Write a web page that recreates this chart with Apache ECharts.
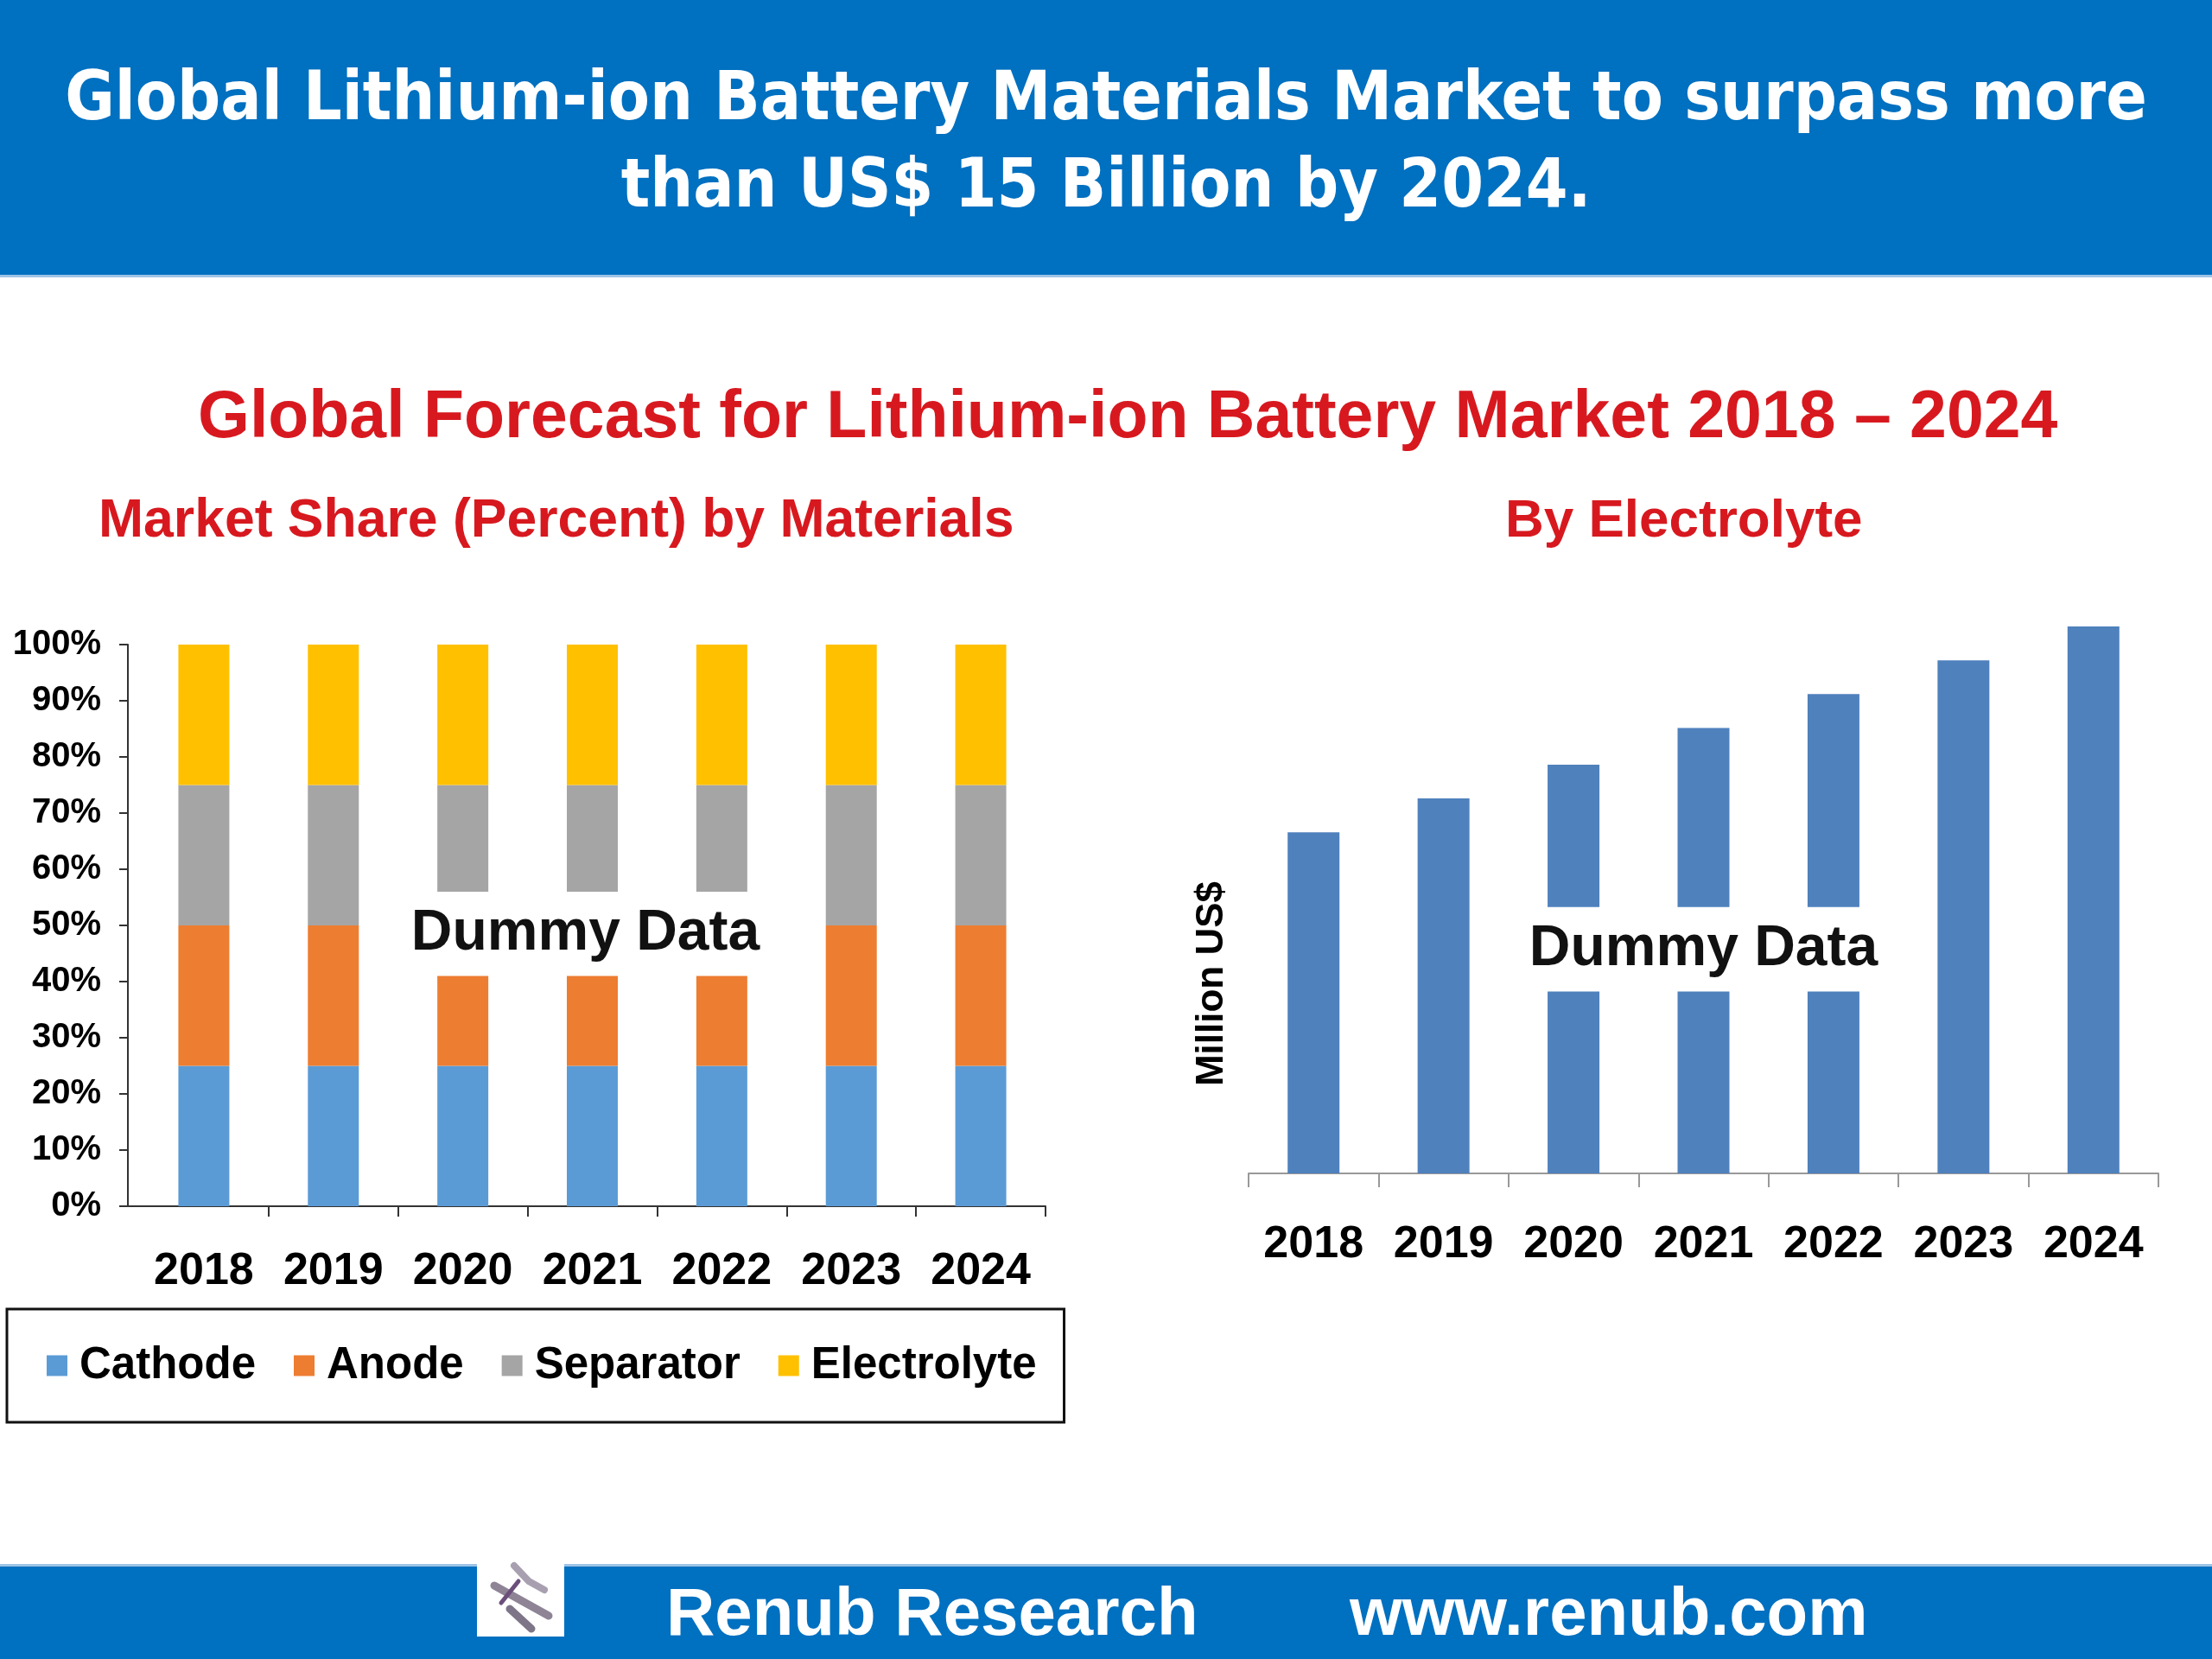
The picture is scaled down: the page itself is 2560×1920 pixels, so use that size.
<!DOCTYPE html>
<html><head><meta charset="utf-8">
<script src="https://cdn.jsdelivr.net/npm/echarts@6/dist/echarts.min.js"></script>
<style>html,body{margin:0;padding:0;background:#fff}#c{width:2560px;height:1920px}</style>
</head><body><div id="c"></div>
<script>
// ---- data ----
const years = ['2018', '2019', '2020', '2021', '2022', '2023', '2024'];
const materialNames = ['Cathode', 'Anode', 'Separator', 'Electrolyte'];
const cathodeShare = [25, 25, 25, 25, 25, 25, 25];
const anodeShare = [25, 25, 25, 25, 25, 25, 25];
const separatorShare = [25, 25, 25, 25, 25, 25, 25];
const electrolyteShare = [25, 25, 25, 25, 25, 25, 25];
const electrolyteMarket = [2420, 2660, 2900, 3160, 3400, 3640, 3880];
const percentMin = 0, percentMax = 100, percentStep = 10;

// ---- styles ----
const ARIAL = "'Liberation Sans', Arial, sans-serif";
const DEJAVU = "'DejaVu Sans Condensed', 'DejaVu Sans', sans-serif";
const BLUE = '#0070C0';
const RED = '#D7191F';
const matColors = ['#5B9BD5', '#ED7D31', '#A5A5A5', '#FFC000'];
const shares = [cathodeShare, anodeShare, separatorShare, electrolyteShare];

const chart = echarts.init(document.getElementById('c'));

const option = {
  backgroundColor: '#fff',
  animation: false,
  title: [
    { text: 'Global Lithium-ion Battery Materials Market to surpass more\nthan US$ 15 Billion by 2024.',
      left: 'center', top: 67, padding: 0,
      textStyle: { color: '#fff', fontSize: 78, fontWeight: 'bold', fontFamily: DEJAVU, lineHeight: 101 } },
    { text: 'Global Forecast for Lithium-ion Battery Market 2018 \u2013 2024',
      left: 229, top: 446, padding: 0,
      textStyle: { color: RED, fontSize: 77, fontWeight: 'bold', fontFamily: ARIAL, lineHeight: 77 } },
    { text: 'Market Share (Percent) by Materials',
      left: 114, top: 573, padding: 0,
      textStyle: { color: RED, fontSize: 62.5, fontWeight: 'bold', fontFamily: ARIAL, lineHeight: 62 } },
    { text: 'By Electrolyte',
      left: 1742, top: 573, padding: 0,
      textStyle: { color: RED, fontSize: 62, fontWeight: 'bold', fontFamily: ARIAL, lineHeight: 62 } },
    { text: 'Renub Research',
      left: 771, top: 1831, padding: 0,
      textStyle: { color: '#fff', fontSize: 78, fontWeight: 'bold', fontFamily: ARIAL, lineHeight: 78 } },
    { text: 'www.renub.com',
      left: 1562, top: 1831, padding: 0,
      textStyle: { color: '#fff', fontSize: 78, fontWeight: 'bold', fontFamily: ARIAL, lineHeight: 78 } }
  ],
  legend: {
    data: materialNames,
    left: 8, top: 1515,
    orient: 'horizontal',
    icon: 'rect',
    itemWidth: 24, itemHeight: 24, itemGap: 44,
    padding: [40, 32, 40, 46],
    borderColor: '#111', borderWidth: 3,
    textStyle: { fontSize: 51, fontWeight: 'bold', fontFamily: ARIAL, color: '#000', padding: [0, 0, 0, 9] }
  },
  grid: [
    { left: 161, top: 746, width: 1049, height: 650 },
    { left: 1445, top: 725, width: 1053, height: 633 }
  ],
  xAxis: [
    { type: 'category', gridIndex: 0, data: years,
      axisLine: { lineStyle: { color: '#333', width: 2 } },
      axisTick: { show: true, interval: (i) => i !== 0, length: 12, lineStyle: { color: '#333', width: 2 } },
      axisLabel: { interval: 0, fontSize: 52, fontWeight: 'bold', fontFamily: ARIAL, color: '#000', margin: 50 } },
    { type: 'category', gridIndex: 1, data: years,
      axisLine: { lineStyle: { color: '#999', width: 2 } },
      axisTick: { show: true, interval: 0, length: 16, lineStyle: { color: '#999', width: 2 } },
      axisLabel: { interval: 0, fontSize: 52, fontWeight: 'bold', fontFamily: ARIAL, color: '#000', margin: 57 } }
  ],
  yAxis: [
    { type: 'value', gridIndex: 0, min: percentMin, max: percentMax, interval: percentStep, offset: 13,
      axisLine: { show: true, lineStyle: { color: '#333', width: 2 } },
      axisTick: { show: true, length: 10, lineStyle: { color: '#333', width: 2 } },
      splitLine: { show: false },
      axisLabel: { formatter: '{value}%', fontSize: 40, fontWeight: 'bold', fontFamily: ARIAL, color: '#000', margin: 31 } },
    { type: 'value', gridIndex: 1, min: 0, max: electrolyteMarket[electrolyteMarket.length - 1],
      axisLine: { show: false }, axisTick: { show: false }, axisLabel: { show: false },
      splitLine: { show: false },
      name: 'Million US$', nameLocation: 'middle', nameRotate: 90, nameGap: 20,
      nameTextStyle: { fontSize: 44, fontWeight: 'bold', fontFamily: ARIAL, color: '#000', padding: [0, 194, 0, 0] } }
  ],
  series: materialNames.map((n, i) => ({
    name: n, type: 'bar', stack: 'share', xAxisIndex: 0, yAxisIndex: 0,
    barWidth: 59, data: shares[i], itemStyle: { color: matColors[i] }
  })).concat([{
    name: 'Electrolyte Market', type: 'bar', xAxisIndex: 1, yAxisIndex: 1,
    barWidth: 60, data: electrolyteMarket, itemStyle: { color: '#4F81BD' }
  }])
};
chart.setOption(option);

// annotation overlays ("Dummy Data") placed via the axes
const L1 = chart.convertToPixel({ xAxisIndex: 0, yAxisIndex: 0 }, [3, 56]);
const L2 = chart.convertToPixel({ xAxisIndex: 0, yAxisIndex: 0 }, [3, 41]);
const LT = chart.convertToPixel({ xAxisIndex: 0, yAxisIndex: 0 }, [3, 48.5]);
const L0 = chart.convertToPixel({ xAxisIndex: 0, yAxisIndex: 0 }, [0, 0]);
const R1 = chart.convertToPixel({ xAxisIndex: 1, yAxisIndex: 1 }, [3, 1890]);
const R2 = chart.convertToPixel({ xAxisIndex: 1, yAxisIndex: 1 }, [3, 1290]);
const RT = chart.convertToPixel({ xAxisIndex: 1, yAxisIndex: 1 }, [3, 1590]);

const dummyStyle = { text: 'Dummy Data', fill: '#111', font: "bold 66px 'Liberation Sans', Arial, sans-serif", textAlign: 'center', textVerticalAlign: 'middle' };

chart.setOption({
  graphic: [
    { type: 'rect', z: -10, shape: { x: 0, y: 0, width: 2560, height: 318 }, style: { fill: BLUE } },
    { type: 'rect', z: -10, shape: { x: 0, y: 318, width: 2560, height: 3 }, style: { fill: '#9DC3E6' } },
    { type: 'rect', z: -10, shape: { x: 0, y: 1812, width: 2560, height: 108 }, style: { fill: BLUE } },
    { type: 'rect', z: -10, shape: { x: 0, y: 1810, width: 2560, height: 3 }, style: { fill: '#9DC3E6' } },
    // short join between the offset y-axis and the x-axis line
    { type: 'line', z: 3, shape: { x1: 161 - 14, y1: L0[1], x2: 162, y2: L0[1] }, style: { stroke: '#333', lineWidth: 2 } },
    { type: 'rect', z: 5, shape: { x: 552, y: 1804, width: 101, height: 90 }, style: { fill: '#fff' } },
    { type: 'polyline', z: 6, shape: { points: [[572, 1835], [635, 1870]] }, style: { stroke: '#8E8496', lineWidth: 9, lineCap: 'round' } },
    { type: 'polyline', z: 6, shape: { points: [[595, 1812], [612, 1830], [630, 1840]] }, style: { stroke: '#A8A0B0', lineWidth: 8, lineCap: 'round' } },
    { type: 'polyline', z: 6, shape: { points: [[590, 1862], [615, 1885]] }, style: { stroke: '#7E7688', lineWidth: 9, lineCap: 'round' } },
    { type: 'polyline', z: 6, shape: { points: [[600, 1830], [580, 1855]] }, style: { stroke: '#6B4F7A', lineWidth: 5, lineCap: 'round' } },
    { type: 'rect', z: 50, shape: { x: LT[0] - 236, y: L1[1], width: 456, height: L2[1] - L1[1] }, style: { fill: '#fff' } },
    { type: 'text', z: 51, x: LT[0] - 8, y: LT[1], style: dummyStyle },
    { type: 'rect', z: 50, shape: { x: RT[0] - 222, y: R1[1], width: 444, height: R2[1] - R1[1] }, style: { fill: '#fff' } },
    { type: 'text', z: 51, x: RT[0], y: RT[1], style: dummyStyle }
  ]
});
</script></body></html>
